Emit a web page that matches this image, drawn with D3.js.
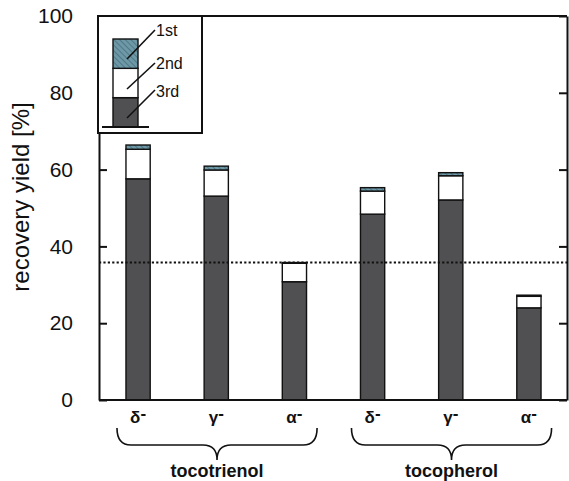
<!DOCTYPE html>
<html>
<head>
<meta charset="utf-8">
<script src="https://cdn.jsdelivr.net/npm/d3@7"></script>
<style>
  html, body { margin: 0; padding: 0; background: #fff; }
  svg { display: block; font-family: "Liberation Sans", Arial, Helvetica, sans-serif; }
</style>
</head>
<body>
<svg id="chart" width="569" height="481"></svg>
<script>
// Compound labels along the x axis and the two families they belong to
const categories = ["δ-", "γ-", "α-", "δ-", "γ-", "α-"];
const groups = [
  { name: "tocotrienol", from: 0, to: 2 },
  { name: "tocopherol", from: 3, to: 5 }
];

// Recovery yield [%] contributed by each extraction step
const third  = [57.6, 53.1, 30.8, 48.4, 52.1, 24.0];
const second = [7.7, 6.8, 4.8, 6.0, 6.3, 3.0];
const first  = [1.1, 1.0, 0.2, 0.9, 0.8, 0.3];

// Reference level drawn as a dotted line
const referenceLevel = 35.8;

const yTicks = [0, 20, 40, 60, 80, 100];
const stepNames = ["3rd", "2nd", "1st"];

const svg = d3.select("#chart");
const margin = { left: 99, right: 1, top: 16, bottom: 81 };
const W = 569, H = 481;
const FONT = "'Liberation Sans', Arial, sans-serif";

const x = d3.scaleBand()
  .domain(d3.range(categories.length))
  .range([margin.left, W - margin.right])
  .paddingInner(0.69)
  .paddingOuter(0.345);

const y = d3.scaleLinear().domain([0, 100]).range([H - margin.bottom, margin.top]);

// Hatch used for the first step
const defs = svg.append("defs");
const pat = defs.append("pattern")
  .attr("id", "hatch")
  .attr("patternUnits", "userSpaceOnUse")
  .attr("width", 4).attr("height", 4)
  .attr("patternTransform", "rotate(-45)");
pat.append("rect").attr("width", 4).attr("height", 4).attr("fill", "#6f98a6");
pat.append("line").attr("x1", 0).attr("y1", 0).attr("x2", 0).attr("y2", 4)
  .attr("stroke", "#44707f").attr("stroke-width", 1.6);

const fills = { "3rd": "#505052", "2nd": "#ffffff", "1st": "url(#hatch)" };

// Stack the three steps per compound
const rows = categories.map((c, i) => ({ i, "3rd": third[i], "2nd": second[i], "1st": first[i] }));
const series = d3.stack().keys(stepNames)(rows);

const barG = svg.append("g");
series.forEach(s => {
  barG.selectAll(null).data(s).enter().append("rect")
    .attr("x", d => x(d.data.i))
    .attr("y", d => y(d[1]))
    .attr("width", x.bandwidth())
    .attr("height", d => y(d[0]) - y(d[1]))
    .attr("fill", fills[s.key])
    .attr("stroke", "#111")
    .attr("stroke-width", 1.4);
});

// Dotted reference line
svg.append("line")
  .attr("x1", x.range()[0]).attr("x2", x.range()[1])
  .attr("y1", y(referenceLevel)).attr("y2", y(referenceLevel))
  .attr("stroke", "#111").attr("stroke-width", 2)
  .attr("stroke-dasharray", "2.2,2.2");

// Left axis with inward ticks
const leftAxis = d3.axisLeft(y).tickValues(yTicks).tickSizeInner(-8).tickSizeOuter(0).tickPadding(26);
const gl = svg.append("g").attr("transform", `translate(${margin.left},0)`).call(leftAxis);
gl.select(".domain").attr("stroke", "#111").attr("stroke-width", 2);
gl.selectAll(".tick line").attr("stroke", "#111").attr("stroke-width", 2);
gl.selectAll(".tick text").attr("font-size", 21).attr("fill", "#111").attr("font-family", FONT);

// Right axis, ticks only
const rightAxis = d3.axisRight(y).tickValues(yTicks).tickSizeInner(-8).tickSizeOuter(0).tickFormat("");
const gr = svg.append("g").attr("transform", `translate(${W - margin.right - 1},0)`).call(rightAxis);
gr.select(".domain").attr("stroke", "#111").attr("stroke-width", 2);
gr.selectAll(".tick line").attr("stroke", "#111").attr("stroke-width", 2);

// Top frame line
svg.append("line").attr("x1", margin.left).attr("x2", W - margin.right - 1)
  .attr("y1", y(100)).attr("y2", y(100)).attr("stroke", "#111").attr("stroke-width", 2);

// Bottom axis: compound prefixes with a raised hyphen
const bottomAxis = d3.axisBottom(x).tickSize(0).tickPadding(11).tickFormat(i => categories[i]);
const gb = svg.append("g").attr("transform", `translate(0,${y(0)})`).call(bottomAxis);
gb.select(".domain").attr("stroke", "#111").attr("stroke-width", 2)
  .attr("d", `M${margin.left},0H${W - margin.right - 1}`);
gb.selectAll(".tick text")
  .attr("font-size", 17).attr("font-weight", "bold").attr("fill", "#111").attr("font-family", FONT)
  .each(function (i) {
    const t = d3.select(this);
    const label = categories[i];
    t.text(null);
    t.append("tspan").text(label.slice(0, -1));
    t.append("tspan").attr("dy", -4).text(label.slice(-1));
  });

// Axis title
svg.append("text")
  .attr("transform", `translate(29,${197}) rotate(-90)`)
  .attr("text-anchor", "middle")
  .attr("font-size", 24)
  .attr("fill", "#111")
  .text("recovery yield [%]");

// Curly braces grouping the compounds
const braceTop = 428, braceMid = 445, braceTip = 460, r = 14;
groups.forEach(g => {
  const x0 = x(g.from) + x.bandwidth() / 2 - x.step() * 0.27;
  const x1 = x(g.to) + x.bandwidth() / 2 + x.step() * 0.29;
  const cx = (x0 + x1) / 2;
  const p = d3.path();
  p.moveTo(x0, braceTop);
  p.quadraticCurveTo(x0, braceMid, x0 + r, braceMid);
  p.lineTo(cx - r, braceMid);
  p.quadraticCurveTo(cx, braceMid, cx, braceTip);
  p.quadraticCurveTo(cx, braceMid, cx + r, braceMid);
  p.lineTo(x1 - r, braceMid);
  p.quadraticCurveTo(x1, braceMid, x1, braceTop);
  svg.append("path").attr("d", p.toString())
    .attr("fill", "none").attr("stroke", "#111").attr("stroke-width", 1.6);
  svg.append("text")
    .attr("x", cx).attr("y", 477)
    .attr("text-anchor", "middle")
    .attr("font-size", 18).attr("font-weight", "bold").attr("fill", "#111")
    .text(g.name);
});

// Legend: a miniature stacked bar with callout lines
const lg = svg.append("g");
lg.append("rect").attr("x", 98).attr("y", 16).attr("width", 104).attr("height", 117)
  .attr("fill", "#fff").attr("stroke", "#111").attr("stroke-width", 2);
const legendScale = d3.scaleLinear().domain([0, 3]).range([127, 39]);
const legendBar = { x: 113, w: 25 };
stepNames.forEach((k, i) => {
  lg.append("rect")
    .attr("x", legendBar.x).attr("y", legendScale(i + 1))
    .attr("width", legendBar.w).attr("height", legendScale(i) - legendScale(i + 1))
    .attr("fill", fills[k]).attr("stroke", "#111").attr("stroke-width", 1.4);
});
lg.append("line").attr("x1", 102).attr("x2", 149).attr("y1", 127).attr("y2", 127)
  .attr("stroke", "#111").attr("stroke-width", 2);
const callouts = [
  { k: "1st", y0: 59, y1: 30, ty: 35.5 },
  { k: "2nd", y0: 89, y1: 63, ty: 68.5 },
  { k: "3rd", y0: 118, y1: 90, ty: 96.5 }
];
callouts.forEach(c => {
  lg.append("line").attr("x1", 127).attr("y1", c.y0).attr("x2", 155).attr("y2", c.y1)
    .attr("stroke", "#111").attr("stroke-width", 1.6);
  lg.append("text").attr("x", 156).attr("y", c.ty)
    .attr("font-size", 16).attr("fill", "#111").text(c.k);
});
</script>
</body>
</html>
